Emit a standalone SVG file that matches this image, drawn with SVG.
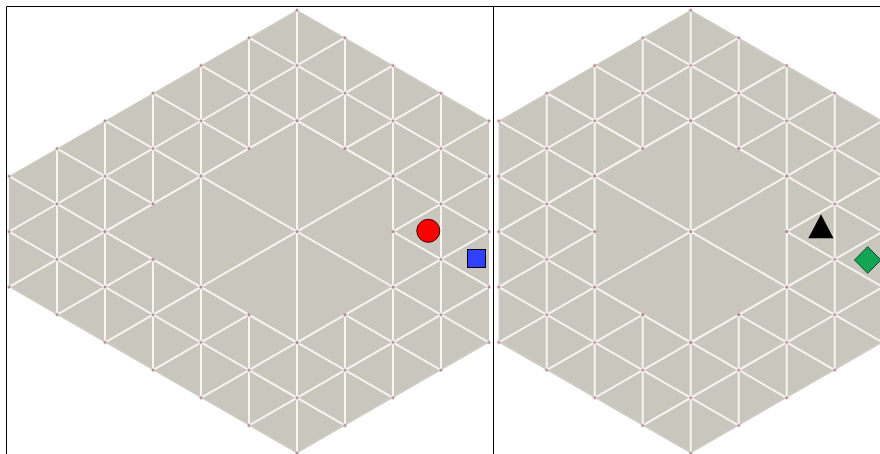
<svg xmlns="http://www.w3.org/2000/svg" xmlns:xlink="http://www.w3.org/1999/xlink" width="880" height="454" viewBox="0 0 880 454">
<style>
.fill{fill:#c9c6be;stroke:none}
.edge{fill:none;stroke:#c9c6be;stroke-width:2.2;vector-effect:non-scaling-stroke}
.ln{fill:none;stroke:#f6f5f2;stroke-width:2;vector-effect:non-scaling-stroke}
.frame{fill:none;stroke:#000;stroke-width:1}
</style>
<defs>
<path id="grid" fill="none" stroke="#f6f5f2" stroke-width="2" vector-effect="non-scaling-stroke" d="M-6,-1V17M-5,-1V17M-4,-1V17M-3,-1V17M-2,-1V17M-1,-1V17M0,-1V17M1,-1V17M2,-1V17M3,-1V17M4,-1V17M5,-1V17M6,-1V17
M-7,-13L7,1M-7,-11L7,3M-7,-9L7,5M-7,-7L7,7M-7,-5L7,9M-7,-3L7,11M-7,-1L7,13M-7,1L7,15M-7,3L7,17M-7,5L7,19M-7,7L7,21M-7,9L7,23M-7,11L7,25M-7,13L7,27M-7,15L7,29
M-7,1L7,-13M-7,3L7,-11M-7,5L7,-9M-7,7L7,-7M-7,9L7,-5M-7,11L7,-3M-7,13L7,-1M-7,15L7,1M-7,17L7,3M-7,19L7,5M-7,21L7,7M-7,23L7,9M-7,25L7,11M-7,27L7,13M-7,29L7,15"/>
<ellipse id="dot" cx="0" cy="0" rx="0.033" ry="0.058" fill="#b98d97"/>
<pattern id="dots" patternUnits="userSpaceOnUse" x="0" y="0" width="2" height="2">
<use href="#dot" x="0" y="0"/><use href="#dot" x="2" y="0"/><use href="#dot" x="0" y="2"/><use href="#dot" x="2" y="2"/><use href="#dot" x="1" y="1"/>
</pattern>
<clipPath id="clipL"><polygon points="0,0 4,4 4,12 0,16 -6,10 -6,6"/></clipPath>
<clipPath id="clipLd"><polygon points="0,-0.12 4.06,3.94 4.06,12.06 0,16.12 -6.06,10.06 -6.06,5.94"/></clipPath>
<clipPath id="clipR"><polygon points="0,0 6,6 6,10 0,16 -4,12 -4,4"/></clipPath>
<clipPath id="clipRd"><polygon points="0,-0.12 6.06,5.94 6.06,10.06 0,16.12 -4.06,12.06 -4.06,3.94"/></clipPath>
</defs>
<rect width="880" height="454" fill="#fff"/>
<g id="board-left" transform="translate(297,10) scale(48,27.7)">
<polygon class="fill" points="0,0 4,4 4,12 0,16 -6,10 -6,6"/>
<g clip-path="url(#clipL)"><use href="#grid"/><polygon class="edge" points="0,0 4,4 4,12 0,16 -6,10 -6,6"/></g>
<g clip-path="url(#clipLd)"><rect x="-7" y="-1" width="14" height="18" fill="url(#dots)"/></g>
<polygon class="fill" points="0,4 2,6 2,10 0,12 -2,10 -4,8 -2,6"/>
<path class="ln" d="M0,4L2,6L2,10L0,12L-2,10L-4,8L-2,6Z M0,4V12 M-2,6L2,10 M-2,10L2,6 M-2,6V10"/>
<g id="dots-left">
<use href="#dot" x="0" y="4"/><use href="#dot" x="1" y="5"/><use href="#dot" x="2" y="6"/><use href="#dot" x="2" y="8"/><use href="#dot" x="2" y="10"/><use href="#dot" x="1" y="11"/><use href="#dot" x="0" y="12"/><use href="#dot" x="-1" y="11"/><use href="#dot" x="-2" y="10"/><use href="#dot" x="-3" y="9"/><use href="#dot" x="-4" y="8"/><use href="#dot" x="-3" y="7"/><use href="#dot" x="-2" y="6"/><use href="#dot" x="-1" y="5"/><use href="#dot" x="0" y="8"/>
</g>
</g>
<g id="board-right" transform="translate(690.7,10) scale(48,27.7)">
<polygon class="fill" points="0,0 6,6 6,10 0,16 -4,12 -4,4"/>
<g clip-path="url(#clipR)"><use href="#grid"/><polygon class="edge" points="0,0 6,6 6,10 0,16 -4,12 -4,4"/></g>
<g clip-path="url(#clipRd)"><rect x="-7" y="-1" width="14" height="18" fill="url(#dots)"/></g>
<polygon class="fill" points="0,4 2,6 2,10 0,12 -2,10 -2,6"/>
<path class="ln" d="M0,4L2,6L2,10L0,12L-2,10L-2,6Z M0,4V12 M-2,6L2,10 M-2,10L2,6"/>
<g id="dots-right">
<use href="#dot" x="0" y="4"/><use href="#dot" x="1" y="5"/><use href="#dot" x="2" y="6"/><use href="#dot" x="2" y="8"/><use href="#dot" x="2" y="10"/><use href="#dot" x="1" y="11"/><use href="#dot" x="0" y="12"/><use href="#dot" x="-1" y="11"/><use href="#dot" x="-2" y="10"/><use href="#dot" x="-2" y="8"/><use href="#dot" x="-2" y="6"/><use href="#dot" x="-1" y="5"/><use href="#dot" x="0" y="8"/>
</g>
</g>
<g id="piece-red-circle"><circle cx="428.3" cy="230.8" r="11.5" fill="#ff0000" stroke="#3a0000" stroke-width="1"/></g>
<g id="piece-blue-square"><rect x="467.5" y="249.5" width="18" height="18" fill="#3040ff" stroke="#000" stroke-width="1"/></g>
<g id="piece-black-triangle"><polygon points="821,214.3 808.3,238.3 833.5,238.3" fill="#000"/></g>
<g id="piece-green-diamond"><polygon points="854.5,260 867.7,246.7 881,260 867.7,273.3" fill="#0fa552" stroke="#17402a" stroke-width="1"/></g>
<path class="frame" d="M6.5,454V6.5H880M493.5,6.5V454"/>
</svg>
